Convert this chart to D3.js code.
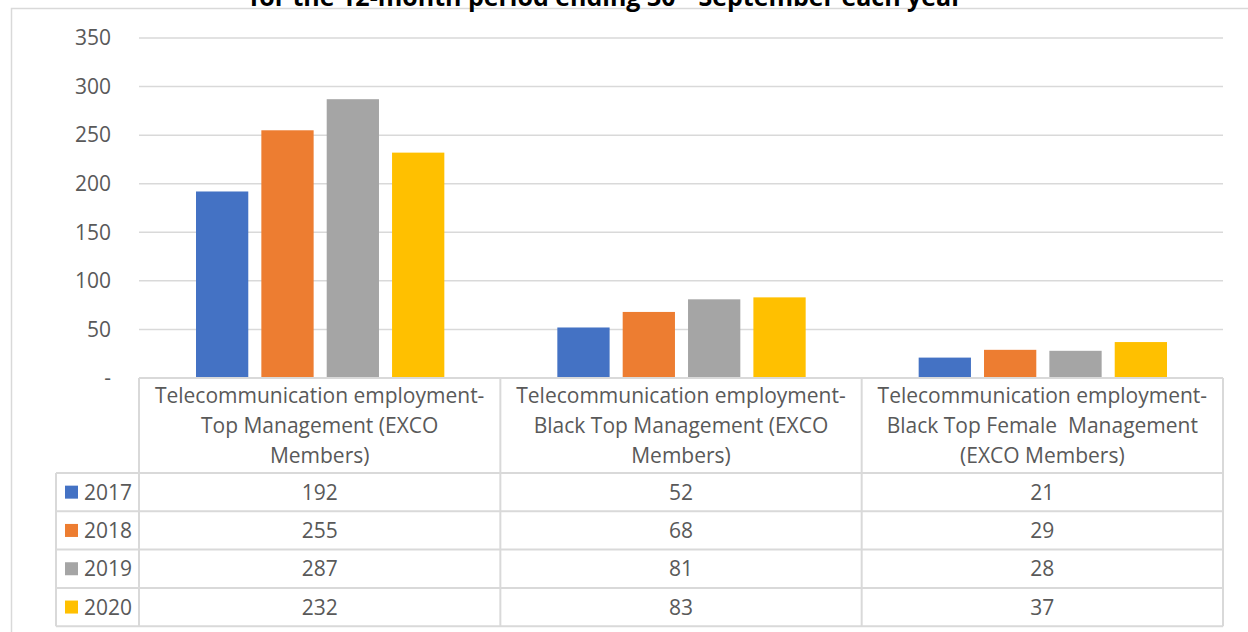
<!DOCTYPE html>
<html>
<head>
<meta charset="utf-8">
<script src="https://cdn.jsdelivr.net/npm/d3@7"></script>
<style>
  html, body { margin: 0; padding: 0; background: #fff; }
  svg { display: block; }
  text { font-family: "Open Sans", "Noto Sans", sans-serif; white-space: pre; }
</style>
</head>
<body>
<svg id="chart" width="1248" height="632"></svg>
<script>
// Data
const categories = [
  ["Telecommunication employment-", "Top Management (EXCO", "Members)"],
  ["Telecommunication employment-", "Black Top Management (EXCO", "Members)"],
  ["Telecommunication employment-", "Black Top Female  Management", "(EXCO Members)"]
];
const years = ["2017", "2018", "2019", "2020"];
const values2017 = [192, 52, 21];
const values2018 = [255, 68, 29];
const values2019 = [287, 81, 28];
const values2020 = [232, 83, 37];
const seriesValues = [values2017, values2018, values2019, values2020];
const colors = ["#4472C4", "#ED7D31", "#A5A5A5", "#FFC000"];
const yTicks = [0, 50, 100, 150, 200, 250, 300, 350];

const svg = d3.select("#chart");
const gridColor = "#d9d9d9";
const textColor = "#595959";
const fontSize = 21;

// Plot area
const plotLeft = 139, plotRight = 1223, plotTop = 38, plotBottom = 378;

// Chart frame
svg.append("path")
  .attr("d", "M11.5,632 V8.5 H1248")
  .attr("fill", "none").attr("stroke", gridColor).attr("stroke-width", 1.5);

// Title (sits above the frame's top edge)
const title = svg.append("text")
  .attr("x", 606).attr("y", 6)
  .attr("text-anchor", "middle")
  .attr("font-weight", "bold").attr("font-size", 25)
  .attr("fill", "#000");
title.append("tspan").text("for the 12-month period ending 30");
title.append("tspan").attr("font-size", 15).attr("dy", -9).text("th");
title.append("tspan").attr("dy", 9).text(" September each year");

const y = d3.scaleLinear().domain([0, 350]).range([plotBottom, plotTop]);
const x0 = d3.scaleBand().domain(d3.range(categories.length)).range([plotLeft, plotRight]);
const x1 = d3.scaleBand().domain(d3.range(years.length))
  .range([57, x0.bandwidth() - 56]).paddingInner(0.2).paddingOuter(0);

// Gridlines
svg.append("g").selectAll("line").data(yTicks.slice(1)).join("line")
  .attr("x1", plotLeft).attr("x2", plotRight)
  .attr("y1", d => y(d)).attr("y2", d => y(d))
  .attr("stroke", gridColor).attr("stroke-width", 1.5);

// Y axis labels
const yAxis = d3.axisLeft(y).tickValues(yTicks).tickSize(0).tickPadding(0)
  .tickFormat(d => d === 0 ? "-" : d);
const gy = svg.append("g").attr("transform", `translate(111,0)`).call(yAxis);
gy.select(".domain").remove();
gy.selectAll("text").attr("font-size", fontSize).attr("fill", textColor)
  .attr("font-family", "'Open Sans', sans-serif");

// Bars
const groups = svg.append("g").selectAll("g").data(categories).join("g")
  .attr("transform", (d, i) => `translate(${x0(i)},0)`);
groups.selectAll("rect").data((d, i) => seriesValues.map((s, k) => ({ k, v: s[i] })))
  .join("rect")
  .attr("x", d => x1(d.k)).attr("width", x1.bandwidth())
  .attr("y", d => y(d.v)).attr("height", d => plotBottom - y(d.v))
  .attr("fill", d => colors[d.k]);

// Data table
const headerBottom = 473;
const rowH = 38.3;
const tableBottom = headerBottom + rowH * years.length;
const legendLeft = 56;
const tbl = svg.append("g").attr("stroke", gridColor).attr("stroke-width", 2).attr("fill", "none");
// vertical lines
[plotLeft, ...d3.range(1, categories.length + 1).map(i => x0(0) + x0.step() * i)].forEach(xv => {
  tbl.append("line").attr("x1", xv).attr("x2", xv).attr("y1", plotBottom).attr("y2", tableBottom);
});
tbl.append("line").attr("x1", legendLeft).attr("x2", legendLeft).attr("y1", headerBottom).attr("y2", tableBottom);
// horizontal lines
tbl.append("line").attr("x1", plotLeft).attr("x2", plotRight).attr("y1", plotBottom).attr("y2", plotBottom);
d3.range(years.length + 1).forEach(r => {
  const yy = headerBottom + rowH * r;
  tbl.append("line").attr("x1", legendLeft).attr("x2", plotRight).attr("y1", yy).attr("y2", yy);
});

// Header labels
const hdr = svg.append("g").selectAll("text").data(categories).join("text")
  .attr("text-anchor", "middle").attr("font-size", fontSize).attr("fill", textColor);
hdr.each(function(lines, i) {
  d3.select(this).selectAll("tspan").data(lines).join("tspan")
    .attr("x", x0(i) + x0.bandwidth() / 2)
    .attr("y", (d, j) => 403 + j * 30)
    .text(d => d);
});

// Rows: legend keys and values
years.forEach((yr, r) => {
  const cy = headerBottom + rowH * r + rowH / 2;
  svg.append("rect").attr("x", 65).attr("y", cy - 6.5).attr("width", 13).attr("height", 13)
    .attr("fill", colors[r]);
  svg.append("text").attr("x", 84).attr("y", cy + 7.5).attr("font-size", fontSize)
    .attr("fill", textColor).text(yr);
  categories.forEach((c, i) => {
    svg.append("text").attr("x", x0(i) + x0.bandwidth() / 2).attr("y", cy + 7.5)
      .attr("text-anchor", "middle").attr("font-size", fontSize).attr("fill", textColor)
      .text(seriesValues[r][i]);
  });
});
</script>
</body>
</html>
